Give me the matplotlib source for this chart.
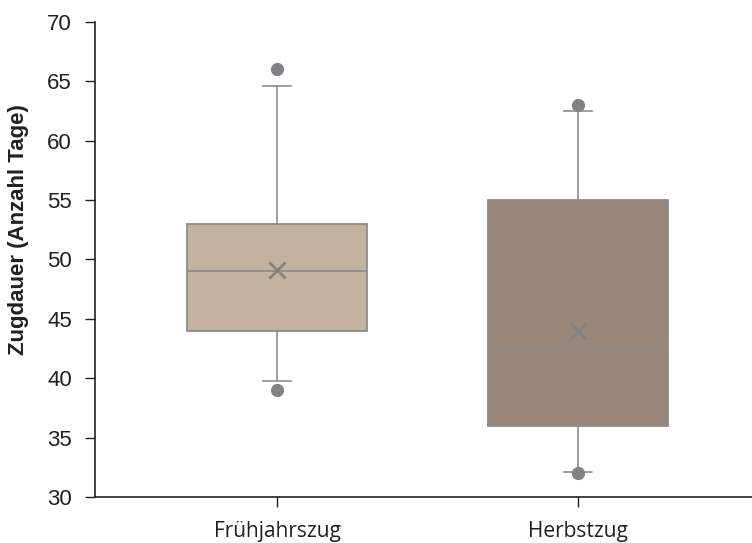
import matplotlib
matplotlib.use("Agg")
import matplotlib.pyplot as plt

# Kennwerte je Gruppe
groups = ["Frühjahrszug", "Herbstzug"]
q1 = [44.0, 36.0]
med = [49.0, 42.5]
q3 = [53.0, 55.0]
mean = [49.1, 44.0]
whislo = [39.8, 32.1]
whishi = [64.6, 62.5]
fliers = [[66.0, 39.0], [63.0, 32.0]]
box_colors = ["#c4b39c", "#9b877a"]

edge = "#8c8c8c"
pt_col = "#808285"

plt.rcParams["font.family"] = ["Liberation Sans", "DejaVu Sans"]

stats = []
for i, g in enumerate(groups):
    stats.append(dict(label=g, q1=q1[i], med=med[i], q3=q3[i], mean=mean[i],
                      whislo=whislo[i], whishi=whishi[i], fliers=fliers[i]))

fig = plt.figure(figsize=(7.52, 5.43), dpi=100)
ax = fig.add_axes([0.1263, 0.0847, 0.8737, 0.8748])

bp = ax.bxp(stats, positions=[1, 2], widths=0.60, capwidths=0.093,
            showmeans=True, patch_artist=True,
            boxprops=dict(edgecolor=edge, linewidth=1.3),
            whiskerprops=dict(color=edge, linewidth=1.2),
            capprops=dict(color=edge, linewidth=1.2),
            medianprops=dict(color=edge, linewidth=1.3),
            meanprops=dict(marker="x", markeredgecolor=pt_col, markersize=11,
                           markeredgewidth=2.0, linestyle="none"),
            flierprops=dict(marker="o", markerfacecolor=pt_col, markeredgecolor=pt_col,
                            markersize=8.5))
for patch, c in zip(bp["boxes"], box_colors):
    patch.set_facecolor(c)

ax.set_xlim(0.3953, 2.578)
ax.set_ylim(30, 70)
ax.set_yticks(range(30, 71, 5))
ax.set_xticks([1, 2])
ax.set_xticklabels(groups, fontfamily=["Open Sans", "DejaVu Sans"], fontsize=15)
ax.spines["top"].set_visible(False)
ax.spines["right"].set_visible(False)
for s in ["left", "bottom"]:
    ax.spines[s].set_color("#231f20")
    ax.spines[s].set_linewidth(1.2)

ax.tick_params(axis="y", length=7, width=1.0, color="#231f20", pad=9.5,
               labelsize=16, labelcolor="#231f20")
ax.tick_params(axis="x", length=7, width=1.0, color="#231f20", pad=10,
               labelcolor="#231f20")

ax.set_ylabel("Zugdauer (Anzahl Tage)", fontsize=16, fontweight="bold",
              color="#231f20")
ax.yaxis.set_label_coords(-0.1, 0.562)

fig.savefig("out.png", dpi=100)
